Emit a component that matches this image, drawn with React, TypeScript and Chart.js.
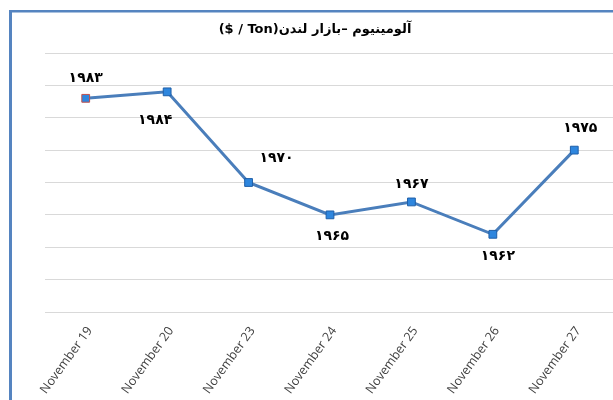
import React, { useEffect, useRef } from 'react';
import { Chart, registerables } from 'chart.js';

Chart.register(...registerables);

const categories = ['November 19', 'November 20', 'November 23', 'November 24', 'November 25', 'November 26', 'November 27'];
const prices = [1983, 1984, 1970, 1965, 1967, 1962, 1975];
const yMin = 1950;
const yMax = 1990;
const yStep = 5;
const titleText = 'آلومینیوم –بازار لندن(Ton / $)';

const labelOffsets: [number, number][] = [
  [0, -20], [-12, 29], [28, -24], [2, 21], [0, -18], [5, 22], [6, -22],
];

const toPersian = (v: number) => String(v).replace(/\d/g, (d) => '۰۱۲۳۴۵۶۷۸۹'[Number(d)]);

const framePlugin = {
  id: 'frame',
  beforeDraw(chart: any) {
    const ctx = chart.ctx;
    ctx.save();
    ctx.fillStyle = '#ffffff';
    ctx.fillRect(0, 0, chart.width, chart.height);
    ctx.fillStyle = '#5584C0';
    ctx.fillRect(9, 10, 3, chart.height);
    ctx.fillRect(9, 10, chart.width, 2.5);
    ctx.restore();
  },
  afterDraw(chart: any) {
    const ctx = chart.ctx;
    ctx.save();
    ctx.direction = 'rtl';
    ctx.font = 'bold 13px "DejaVu Sans"';
    ctx.fillStyle = '#000000';
    ctx.textAlign = 'center';
    ctx.textBaseline = 'middle';
    ctx.fillText(titleText, 315, 30);
    ctx.restore();
  },
};

const labelPlugin = {
  id: 'valueLabels',
  afterDatasetsDraw(chart: any) {
    const ctx = chart.ctx;
    const meta = chart.getDatasetMeta(0);
    ctx.save();
    ctx.font = 'bold 14px "DejaVu Sans"';
    ctx.fillStyle = '#000000';
    ctx.textAlign = 'center';
    ctx.textBaseline = 'middle';
    meta.data.forEach((pt: any, i: number) => {
      const [dx, dy] = labelOffsets[i];
      ctx.fillText(toPersian(prices[i]), pt.x + dx, pt.y + dy);
    });
    ctx.restore();
  },
};

export default function App() {
  const ref = useRef<HTMLCanvasElement>(null);
  useEffect(() => {
    if (!ref.current) return;
    const chart = new Chart(ref.current, {
      type: 'line',
      data: {
        labels: categories,
        datasets: [
          {
            data: prices,
            borderColor: '#4A7EBB',
            borderWidth: 3,
            tension: 0,
            pointStyle: 'rect',
            pointRadius: 5.5,
            pointBackgroundColor: '#2E86DE',
            pointBorderColor: prices.map((_, i) => (i === 0 ? '#C0504D' : '#1F5FA8')),
            pointBorderWidth: 1,
          },
        ],
      },
      options: {
        responsive: false,
        animation: false,
        devicePixelRatio: 1,
        layout: { padding: { top: 53, left: 45, right: 10, bottom: 0 } },
        plugins: { legend: { display: false }, tooltip: { enabled: false }, title: { display: false } },
        scales: {
          x: {
            offset: true,
            grid: { display: false },
            border: { display: false },
            ticks: {
              minRotation: 54,
              maxRotation: 54,
              color: '#404040',
              font: { family: '"Open Sans"', size: 12.5 },
              padding: 4,
              labelOffset: 4,
            },
            afterFit: (s: any) => {
              s.height = 88;
            },
          },
          y: {
            min: yMin,
            max: yMax,
            ticks: { display: false, stepSize: yStep },
            grid: { color: '#D9D9D9', lineWidth: 1, drawTicks: false },
            border: { display: false },
            afterFit: (s: any) => {
              s.width = 0;
            },
          },
        },
      },
      plugins: [framePlugin, labelPlugin],
    });
    return () => chart.destroy();
  }, []);
  return (
    <div style={{ position: 'fixed', left: 0, top: 0, width: 613, height: 400, overflow: 'hidden', background: '#fff' }}>
      <canvas ref={ref} width={625} height={400} style={{ width: 625, height: 400, display: 'block' }} />
    </div>
  );
}
